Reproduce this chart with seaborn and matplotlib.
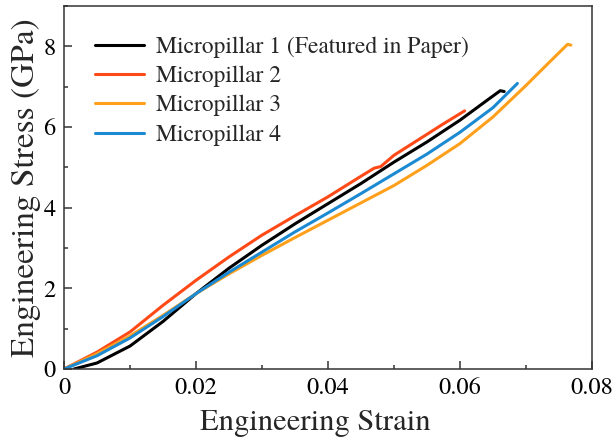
import seaborn as sns
import matplotlib.pyplot as plt
import matplotlib.ticker as mticker
import pandas as pd

strain1 = [0.0015, 0.005, 0.01, 0.015, 0.02, 0.025, 0.03, 0.035, 0.04, 0.045, 0.05, 0.055, 0.06, 0.064, 0.0661, 0.0667]
stress1 = [0.0, 0.15, 0.57, 1.18, 1.87, 2.50, 3.07, 3.60, 4.10, 4.60, 5.13, 5.63, 6.17, 6.65, 6.90, 6.88]

strain2 = [0.0, 0.005, 0.01, 0.015, 0.02, 0.025, 0.03, 0.035, 0.04, 0.045, 0.047, 0.048, 0.05, 0.055, 0.0575, 0.0607]
stress2 = [0.0, 0.42, 0.92, 1.58, 2.20, 2.78, 3.32, 3.80, 4.27, 4.78, 4.98, 5.02, 5.30, 5.82, 6.08, 6.40]

strain3 = [0.0, 0.005, 0.01, 0.015, 0.02, 0.025, 0.03, 0.035, 0.04, 0.045, 0.05, 0.055, 0.06, 0.065, 0.07, 0.0735, 0.0763, 0.0768]
stress3 = [0.0, 0.38, 0.82, 1.33, 1.87, 2.36, 2.82, 3.26, 3.69, 4.12, 4.55, 5.05, 5.59, 6.25, 7.03, 7.60, 8.05, 8.03]

strain4 = [0.0, 0.005, 0.01, 0.015, 0.02, 0.025, 0.03, 0.035, 0.04, 0.045, 0.05, 0.055, 0.06, 0.065, 0.0687]
stress4 = [0.0, 0.33, 0.77, 1.30, 1.87, 2.40, 2.90, 3.40, 3.87, 4.35, 4.84, 5.33, 5.87, 6.48, 7.08]

names = ['Micropillar 1 (Featured in Paper)', 'Micropillar 2', 'Micropillar 3', 'Micropillar 4']
colors = ['#000000', '#FF4A17', '#FFA01C', '#1C8AD2']

sns.set_style('white')
plt.rcParams['font.family'] = ['TeX Gyre Termes', 'FreeSerif', 'STIXGeneral', 'DejaVu Serif']

fig = plt.figure(figsize=(6.16, 4.38), dpi=100)
ax = fig.add_axes([0.104, 0.1575, 0.857, 0.8288])

curves = [(strain1, stress1), (strain2, stress2), (strain3, stress3), (strain4, stress4)]
for (x, y), name, c in zip(curves, names, colors):
    df = pd.DataFrame({'strain': x, 'stress': y})
    sns.lineplot(data=df, x='strain', y='stress', ax=ax, color=c, lw=2.2,
                 sort=False, estimator=None, label=name)

ax.set_xlim(0, 0.08)
ax.set_ylim(0, 9)
ax.xaxis.set_major_locator(mticker.MultipleLocator(0.02))
ax.xaxis.set_minor_locator(mticker.MultipleLocator(0.01))
ax.yaxis.set_major_locator(mticker.MultipleLocator(2))
ax.yaxis.set_minor_locator(mticker.MultipleLocator(1))
ax.xaxis.set_major_formatter(mticker.FuncFormatter(lambda v, p: f'{v:g}'))
ax.yaxis.set_major_formatter(mticker.FuncFormatter(lambda v, p: f'{v:g}'))
ax.tick_params(which='both', direction='in', colors='#333333', labelcolor='black',
               bottom=True, left=True, top=False, right=False, width=1.1)
ax.tick_params(which='major', length=6, labelsize=17.5, pad=6)
ax.tick_params(which='minor', length=3)
for s in ax.spines.values():
    s.set_color('#333333')
    s.set_linewidth(1.1)

ax.set_xlabel('Engineering Strain', fontsize=22)
ax.xaxis.set_label_coords(0.475, -0.11)
ax.set_ylabel('Engineering Stress (GPa)', fontsize=24, labelpad=2)

leg = ax.legend(loc='upper left', frameon=False, fontsize=17, handlelength=2.05,
                handletextpad=0.5, labelspacing=0.33, borderaxespad=0.3,
                bbox_to_anchor=(0.028, 0.962))

fig.savefig('out.png', dpi=100)
